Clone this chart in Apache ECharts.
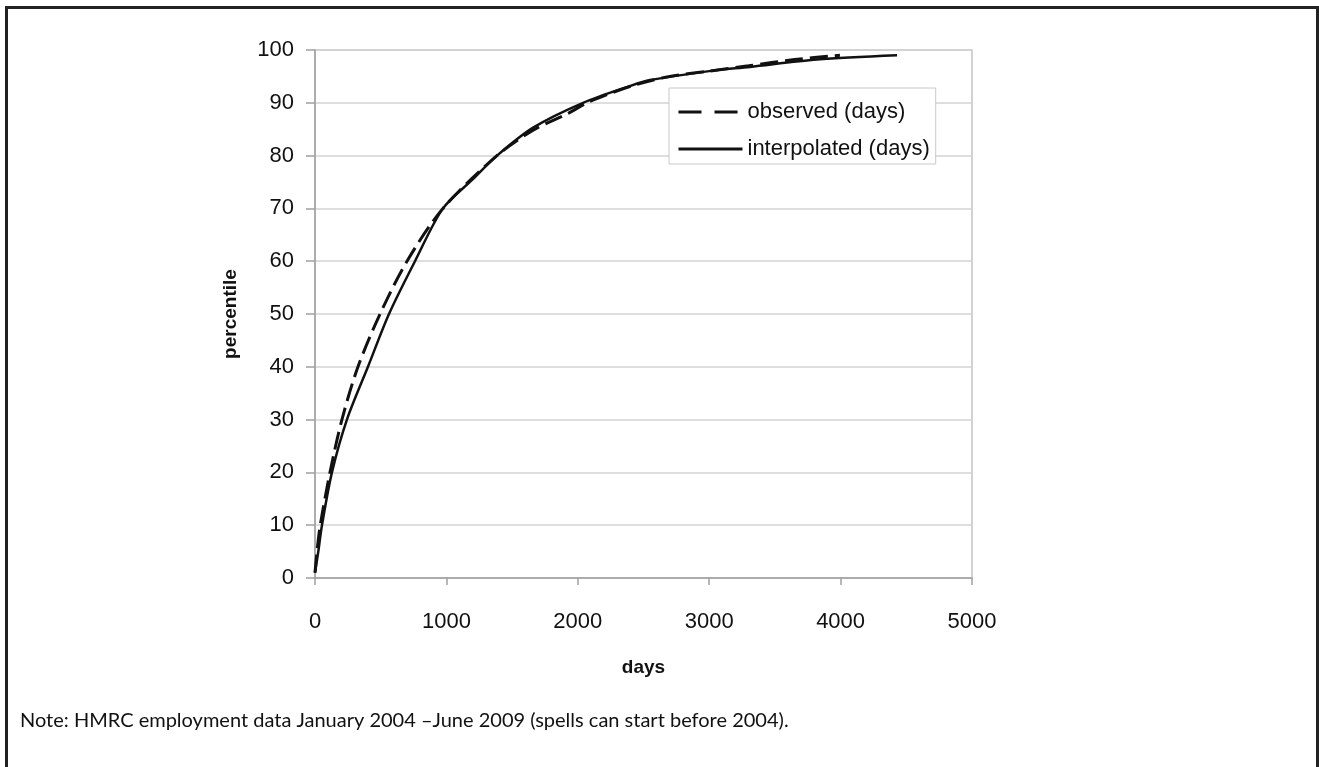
<!DOCTYPE html>
<html>
<head>
<meta charset="utf-8">
<script src="https://cdn.jsdelivr.net/npm/echarts@6/dist/echarts.min.js"></script>
<style>
  html, body { margin: 0; padding: 0; background: #fff; }
  #chart { position: absolute; left: 0; top: 0; width: 1319px; height: 767px; }
  #frame { position: absolute; left: 5px; top: 6px; width: 1308px; height: 820px;
           border: 3px solid #222; pointer-events: none; }
</style>
</head>
<body>
<div id="chart"></div>
<div id="frame"></div>
<script>
// observed percentiles (dashed)
var observedDays = [0, 15, 40, 114, 205, 327, 495, 700, 974, 1385, 1660, 1920, 2070, 2270, 2450, 2700, 3000, 3300, 3650, 3995];
var observedPct  = [1, 5, 10, 20, 30, 40, 50, 60, 70, 80, 84.8, 87.9, 90, 92, 93.5, 95, 96, 97, 98.2, 99];

// interpolated percentiles (solid)
var interpDays = [0, 25, 53, 129, 243, 403, 563, 761, 974, 1200, 1385, 1660, 2040, 2400, 2550, 3000, 3310, 3820, 4430];
var interpPct  = [1, 5, 10, 20, 30, 40, 50, 60, 70, 75.5, 80, 85.3, 90, 93.2, 94.3, 96, 96.8, 98.2, 99];

var xTicks = [0, 1000, 2000, 3000, 4000, 5000];
var yTicks = [0, 10, 20, 30, 40, 50, 60, 70, 80, 90, 100];

var noteText = 'Note: HMRC employment data January 2004 \u2013June 2009 (spells can start before 2004).';

function pairs(xs, ys) {
    return xs.map(function (x, i) { return [x, ys[i]]; });
}

var myChart = echarts.init(document.getElementById('chart'));
var axisFont = 'Liberation Sans, Arial, sans-serif';
var option = {
    animation: false,
    backgroundColor: '#fff',
    grid: {
        left: 315,
        right: 347,
        top: 50,
        bottom: 189,
        show: true,
        borderColor: '#c4c4c4',
        borderWidth: 1.5
    },
    legend: {
        orient: 'vertical',
        left: 669,
        top: 88,
        itemWidth: 64,
        itemHeight: 16,
        itemGap: 15,
        padding: [13, 6, 4, 8],
        borderColor: '#c8c8c8',
        borderWidth: 1,
        backgroundColor: '#fff',
        textStyle: { fontFamily: axisFont, fontSize: 22, color: '#111' },
        data: [
            { name: 'observed (days)', itemStyle: { opacity: 0 }, lineStyle: { type: [23, 13], width: 3 } },
            { name: 'interpolated (days)', itemStyle: { opacity: 0 }, lineStyle: { width: 3 } }
        ]
    },
    xAxis: {
        type: 'value',
        min: xTicks[0],
        max: xTicks[xTicks.length - 1],
        interval: 1000,
        name: 'days',
        nameLocation: 'middle',
        nameGap: 80,
        nameTextStyle: { fontFamily: axisFont, fontSize: 19, fontWeight: 'bold', color: '#111' },
        axisLine: { lineStyle: { color: '#a0a0a0', width: 1.5 } },
        axisTick: { show: true, length: 7, lineStyle: { color: '#a0a0a0', width: 1.5 } },
        axisLabel: {
            margin: 33, fontFamily: axisFont, fontSize: 22, color: '#111',
            formatter: function (v) { return String(v); }
        },
        splitLine: { show: false }
    },
    yAxis: {
        type: 'value',
        min: yTicks[0],
        max: yTicks[yTicks.length - 1],
        interval: 10,
        name: 'percentile',
        nameLocation: 'middle',
        nameGap: 75,
        nameTextStyle: { fontFamily: axisFont, fontSize: 19, fontWeight: 'bold', color: '#111' },
        axisLine: { show: true, lineStyle: { color: '#a0a0a0', width: 1.5 } },
        axisTick: { show: true, length: 9, lineStyle: { color: '#a0a0a0', width: 1.5 } },
        axisLabel: { margin: 21, fontFamily: axisFont, fontSize: 22, color: '#111' },
        splitLine: { show: true, lineStyle: { color: '#d3d3d3', width: 1.5 } }
    },
    series: [
        {
            name: 'observed (days)',
            type: 'line',
            symbol: 'none',
            smooth: 0.3,
            data: pairs(observedDays, observedPct),
            lineStyle: { color: '#111', width: 3, type: [18, 7] },
            itemStyle: { color: '#111' }
        },
        {
            name: 'interpolated (days)',
            type: 'line',
            symbol: 'none',
            smooth: 0.3,
            data: pairs(interpDays, interpPct),
            lineStyle: { color: '#111', width: 2.5 },
            itemStyle: { color: '#111' }
        }
    ],
    graphic: [
        {
            type: 'text',
            left: 20,
            top: 711,
            style: {
                text: noteText,
                font: '20px Lato, "Noto Sans", sans-serif',
                fill: '#111'
            }
        }
    ]
};
myChart.setOption(option);
</script>
</body>
</html>
